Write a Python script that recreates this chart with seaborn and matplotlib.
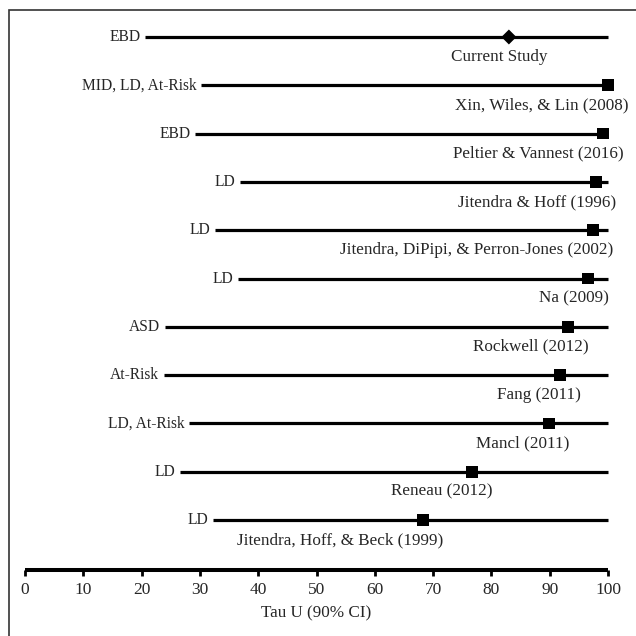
import matplotlib
matplotlib.use("Agg")
import matplotlib.pyplot as plt
import seaborn as sns
import pandas as pd
from matplotlib.patches import Rectangle

studies = ["Current Study", "Xin, Wiles, & Lin (2008)", "Peltier & Vannest (2016)",
           "Jitendra & Hoff (1996)", "Jitendra, DiPipi, & Perron-Jones (2002)", "Na (2009)",
           "Rockwell (2012)", "Fang (2011)", "Mancl (2011)", "Reneau (2012)",
           "Jitendra, Hoff, & Beck (1999)"]
populations = ["EBD", "MID, LD, At-Risk", "EBD", "LD", "LD", "LD", "ASD", "At-Risk",
               "LD, At-Risk", "LD", "LD"]
tau_u = [83.0, 100.0, 99.1, 97.9, 97.4, 96.6, 93.1, 91.8, 89.9, 76.7, 68.3]
ci_low = [20.6, 30.2, 29.2, 36.9, 32.6, 36.5, 24.0, 23.8, 28.1, 26.6, 32.2]
ci_high = [100, 100, 100, 100, 100, 100, 100, 100, 100, 100, 100]
kind = ["current"] + ["prior"] * 10
ticks = list(range(0, 101, 10))

df = pd.DataFrame({"study": studies, "pop": populations, "tau": tau_u,
                   "lo": ci_low, "hi": ci_high, "kind": kind})
df["row"] = range(len(df))

sns.set_style("white")
plt.rcParams["font.family"] = ["Liberation Serif", "DejaVu Serif"]

W = H = 636
fig = plt.figure(figsize=(6.36, 6.36), dpi=100)
ax = fig.add_axes([25 / W, (H - 570) / H, (608 - 25) / W, (570 - 10) / H])

ax.hlines(df["row"], df["lo"], df["hi"], color="black", linewidth=2.3, zorder=1)
sns.scatterplot(data=df, x="tau", y="row", style="kind",
                markers={"current": "D", "prior": "s"},
                size="kind", sizes={"current": 58, "prior": 72},
                color="black", edgecolor="black", linewidth=0, legend=False,
                ax=ax, zorder=3)
for c in ax.collections:
    c.set_clip_on(False)

fs = 12.3
for _, r in df.iterrows():
    ax.text(r["lo"] - 0.8, r["row"], r["pop"], ha="right", va="center", fontsize=11.2)
    off = 6.6 if r["kind"] == "current" else 3.5
    ax.text(r["tau"] + off, r["row"] + 0.25, r["study"], ha="right", va="top", fontsize=fs)

ax.set_xlim(0, 100)
ax.set_ylim(11.035, -0.559)
ax.set_xticks(ticks)
ax.set_xticklabels([str(t) for t in ticks], fontsize=12.5)
ax.set_yticks([])
ax.set_xlabel("Tau U (90% CI)", fontsize=fs, labelpad=5)
ax.set_ylabel("")
for s in ["top", "right", "left"]:
    ax.spines[s].set_visible(False)
ax.spines["bottom"].set_linewidth(2.9)
ax.spines["bottom"].set_color("black")
ax.spines["bottom"].set_capstyle("butt")
ax.tick_params(axis="x", direction="out", length=4, width=2, color="black", pad=5, bottom=True)

fig.patches.append(Rectangle((9 / W, -0.1), 1.2, (H - 10) / H + 0.1, transform=fig.transFigure,
                             fill=False, edgecolor="#333333", linewidth=1.2))
fig.savefig("out.png", dpi=100)
